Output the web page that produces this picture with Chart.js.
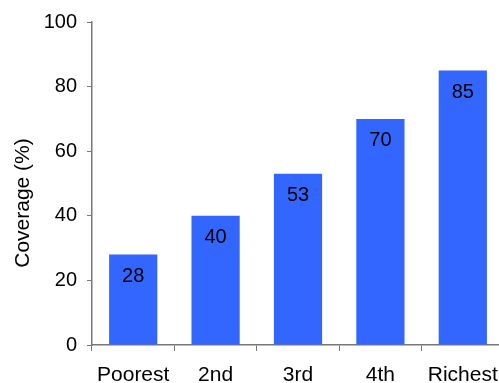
<!DOCTYPE html>
<html>
<head>
<meta charset="utf-8">
<script src="https://cdn.jsdelivr.net/npm/chart.js@4/dist/chart.umd.min.js"></script>
<style>
  html, body { margin: 0; padding: 0; background: #fff; overflow: hidden; }
  #wrap { position: relative; width: 505px; height: 383px; }
</style>
</head>
<body>
<div id="wrap"><canvas id="c" width="505" height="383"></canvas></div>
<script>
const categories = ["Poorest", "2nd", "3rd", "4th", "Richest"];
const coverage = [28, 40, 53, 70, 85];
const yTicks = [0, 20, 40, 60, 80, 100];
const yTitle = "Coverage (%)";

const FONT = "'Liberation Sans', Arial, sans-serif";
const AXIS = "#777777";

const valueLabels = {
  id: "valueLabels",
  afterDatasetsDraw(chart) {
    const ctx = chart.ctx;
    const meta = chart.getDatasetMeta(0);
    ctx.save();
    ctx.font = "20px " + FONT;
    ctx.fillStyle = "#000";
    ctx.textAlign = "center";
    ctx.textBaseline = "middle";
    meta.data.forEach((bar, i) => {
      ctx.fillText(String(coverage[i]), bar.x, bar.y + 22);
    });
    ctx.restore();
  }
};

const axisTitle = {
  id: "axisTitle",
  afterDraw(chart) {
    const ctx = chart.ctx;
    ctx.save();
    ctx.translate(23, 203);
    ctx.rotate(-Math.PI / 2);
    ctx.font = "21px " + FONT;
    ctx.fillStyle = "#000";
    ctx.textAlign = "center";
    ctx.textBaseline = "middle";
    ctx.fillText(yTitle, 0, 0);
    ctx.restore();
  }
};

new Chart(document.getElementById("c"), {
  type: "bar",
  data: {
    labels: categories,
    datasets: [{
      data: coverage,
      backgroundColor: "#3366FF",
      borderWidth: 0,
      barPercentage: 0.585,
      categoryPercentage: 1.0
    }]
  },
  options: {
    responsive: false,
    animation: false,
    devicePixelRatio: 1,
    layout: { padding: { top: 22, right: 1, bottom: 0, left: 0 } },
    plugins: { legend: { display: false }, tooltip: { enabled: false } },
    scales: {
      x: {
        offset: true,
        grid: { display: true, drawOnChartArea: false, drawTicks: true, tickLength: 6, offset: true, color: AXIS, lineWidth: 1 },
        border: { display: true, color: AXIS, width: 1.5 },
        ticks: { color: "#000", font: { size: 21, family: FONT }, padding: 12, maxRotation: 0, autoSkip: false },
        afterFit(scale) { scale.height = 38; scale.paddingLeft = 0; scale.paddingRight = 0; }
      },
      y: {
        min: 0, max: 100,
        afterBuildTicks(scale) { scale.ticks = yTicks.map(v => ({ value: v })); },
        grid: { display: true, drawOnChartArea: false, drawTicks: true, tickLength: 5, color: AXIS, lineWidth: 1 },
        border: { display: true, color: AXIS, width: 1.5 },
        ticks: { color: "#000", font: { size: 20, family: FONT }, padding: 10 },
        afterFit(scale) { scale.width = 92; }
      }
    }
  },
  plugins: [valueLabels, axisTitle]
});
</script>
</body>
</html>
